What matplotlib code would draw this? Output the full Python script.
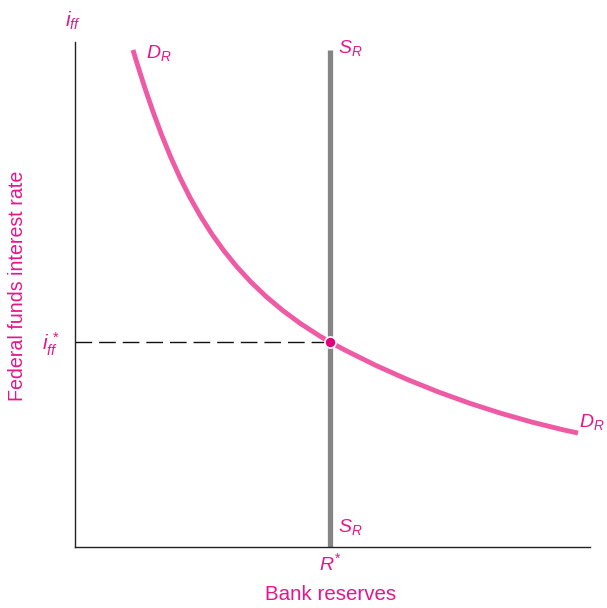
import matplotlib
matplotlib.use("Agg")
import matplotlib.pyplot as plt
from matplotlib.path import Path
from matplotlib.patches import PathPatch

plt.rcParams['font.family'] = ['Liberation Sans', 'DejaVu Sans']
plt.rcParams['mathtext.fontset'] = 'custom'
plt.rcParams['mathtext.rm'] = 'Liberation Sans'
plt.rcParams['mathtext.it'] = 'Liberation Sans:italic'

# Demand curve D_R: anchor and control points of two cubic Bezier segments
# (axis units 0-100)
demand_x = [11.26, 19.42, 28.16, 49.51, 65.05, 82.14, 97.67]
demand_y = [98.42, 70.69, 53.01, 40.59, 31.88, 25.90, 22.57]
# Supply curve S_R (vertical)
supply_x = [49.51, 49.51]
supply_y = [0, 98.4]
# Equilibrium
eq_x = 49.51
eq_y = 40.59

PINK_LINE = '#ee5ba4'
PINK_TEXT = '#e6168a'
DOT = '#e2007a'
GRAY = '#858588'

fig = plt.figure(figsize=(6.07, 6.08), dpi=100)
ax = fig.add_axes([75/607, 61/608, 515/607, 505/608])
ax.set_xlim(0, 100)
ax.set_ylim(0, 100)
ax.set_xticks([])
ax.set_yticks([])
for s in ['top', 'right']:
    ax.spines[s].set_visible(False)
for s in ['left', 'bottom']:
    ax.spines[s].set_linewidth(1.0)
    ax.spines[s].set_color('#222222')

ax.plot(supply_x, supply_y, color=GRAY, lw=3.8, solid_capstyle='butt', zorder=2, clip_on=False)
ax.plot([0, eq_x], [eq_y, eq_y], color='#111111', lw=1.0, dashes=(12, 5), zorder=1)

codes = [Path.MOVETO] + [Path.CURVE4] * (len(demand_x) - 1)
path = Path(list(zip(demand_x, demand_y)), codes)
ax.add_patch(PathPatch(path, facecolor='none', edgecolor=PINK_LINE, lw=3.5,
                       capstyle='butt', zorder=3, clip_on=False))
ax.plot([eq_x], [eq_y], 'o', ms=8, color=DOT, mec='white', mew=1.2, zorder=4, clip_on=False)

def lab(x, y, s, **kw):
    fig.text(x/607, 1 - y/608, s, color=PINK_TEXT, **kw)

lab(73, 21, r'$\mathit{i}_{\mathit{ff}}$', fontsize=15, ha='center', va='center')
lab(146, 53, r'$\mathit{D}_{\mathit{R}}$', fontsize=14, ha='left', va='center')
lab(338, 48, r'$\mathit{S}_{\mathit{R}}$', fontsize=14, ha='left', va='center')
lab(338, 527, r'$\mathit{S}_{\mathit{R}}$', fontsize=14, ha='left', va='center')
lab(579, 422, r'$\mathit{D}_{\mathit{R}}$', fontsize=14, ha='left', va='center')
lab(42, 344, r'$\mathit{i}_{\mathit{ff}}^{\,*}$', fontsize=15, ha='left', va='center')
lab(330, 563, r'$\mathit{R}^{*}$', fontsize=14, ha='center', va='center')
lab(331, 595, 'Bank reserves', fontsize=14.8, ha='center', va='center')
lab(18, 286, 'Federal funds interest rate', fontsize=14.1, ha='center', va='center', rotation=90)

fig.savefig('out.png', dpi=100)
